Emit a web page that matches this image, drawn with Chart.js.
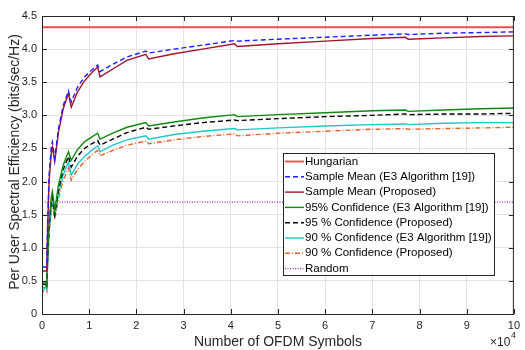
<!DOCTYPE html>
<html>
<head>
<meta charset="utf-8">
<script src="https://cdn.jsdelivr.net/npm/chart.js@4.4.1/dist/chart.umd.min.js"></script>
<style>
  html, body { margin: 0; padding: 0; background: #fff; }
  #wrap { width: 525px; height: 350px; }
</style>
</head>
<body>
<div id="wrap"><canvas id="seChart" width="525" height="350"></canvas></div>
<script>
// Number of OFDM symbols (x 10^4), shared by every curve
const symbols = [0, 0.08, 0.1, 0.12, 0.15, 0.2, 0.22, 0.27, 0.35, 0.45, 0.56, 0.62, 0.75, 0.9, 1.05, 1.18, 1.23,
                 1.5, 1.8, 2.2, 2.26, 2.8, 3.4, 4.08, 4.14, 5, 6, 7, 7.7, 7.76, 8.5, 9.3, 10];

const hungarian = symbols.map(() => 4.33);
const randomAlloc = symbols.map(() => 1.69);

const meanE3 = [0.71, 0.71, 0.71, 1.4, 2.1, 2.55, 2.6, 2.35, 2.8, 3.15, 3.37, 3.2, 3.42, 3.58, 3.68, 3.76, 3.66,
                3.77, 3.88, 3.97, 3.94, 4.0, 4.06, 4.13, 4.12, 4.15, 4.18, 4.21, 4.23, 4.22, 4.24, 4.25, 4.26];
const meanProposed = [0.65, 0.65, 0.65, 1.3, 2.0, 2.45, 2.52, 2.3, 2.75, 3.1, 3.33, 3.12, 3.35, 3.52, 3.64, 3.73, 3.58,
                      3.7, 3.83, 3.92, 3.85, 3.93, 4.0, 4.08, 4.04, 4.08, 4.12, 4.16, 4.18, 4.15, 4.17, 4.19, 4.2];
const conf95E3 = [0.47, 0.47, 0.42, 0.9, 1.4, 1.78, 1.85, 1.57, 1.95, 2.25, 2.45, 2.32, 2.48, 2.6, 2.67, 2.73, 2.64,
                  2.73, 2.82, 2.89, 2.84, 2.9, 2.96, 3.01, 2.98, 3.01, 3.04, 3.07, 3.08, 3.06, 3.08, 3.1, 3.11];
const conf95Proposed = [0.45, 0.45, 0.4, 0.85, 1.3, 1.7, 1.76, 1.5, 1.88, 2.18, 2.38, 2.22, 2.38, 2.5, 2.57, 2.62, 2.55,
                        2.64, 2.74, 2.82, 2.79, 2.84, 2.89, 2.93, 2.92, 2.95, 2.98, 3.0, 3.02, 3.01, 3.02, 3.02, 3.03];
const conf90E3 = [0.3, 0.43, 0.38, 0.8, 1.25, 1.65, 1.7, 1.48, 1.82, 2.1, 2.29, 2.1, 2.26, 2.38, 2.47, 2.54, 2.45,
                  2.55, 2.63, 2.69, 2.64, 2.71, 2.76, 2.8, 2.78, 2.81, 2.84, 2.86, 2.87, 2.86, 2.88, 2.89, 2.89];
const conf90Proposed = [0.4, 0.4, 0.35, 0.75, 1.2, 1.6, 1.65, 1.43, 1.75, 2.02, 2.2, 2.02, 2.18, 2.3, 2.4, 2.47, 2.39,
                        2.47, 2.55, 2.61, 2.57, 2.63, 2.68, 2.72, 2.69, 2.73, 2.76, 2.79, 2.8, 2.79, 2.8, 2.81, 2.82];

const xTicks = [0, 1, 2, 3, 4, 5, 6, 7, 8, 9, 10];
const yTicks = [0, 0.5, 1, 1.5, 2, 2.5, 3, 3.5, 4, 4.5];

const FONT = 'Liberation Sans, Arial, sans-serif';

// pair x values with a series for the linear x scale
function pts(values) {
    return symbols.map((x, i) => ({ x: x, y: values[i] }));
}

function series(label, values, color, dash, width) {
    return {
        label: label,
        data: pts(values),
        borderColor: color,
        backgroundColor: color,
        borderWidth: width || 1.4,
        borderDash: dash,
        pointRadius: 0,
        tension: 0,
        fill: false
    };
}

const datasets = [
    series('Hungarian', hungarian, '#f24a4a', [], 1.8),
    series('Sample Mean (E3 Algorithm [19])', meanE3, '#1f1fff', [5, 3]),
    series('Sample Mean (Proposed)', meanProposed, '#a2142f', []),
    series('95% Confidence (E3 Algorithm [19])', conf95E3, '#0f8a0f', []),
    series('95 % Confidence (Proposed)', conf95Proposed, '#000000', [5, 3]),
    series('90 % Confidence (E3 Algorithm [19])', conf90E3, '#1cc8c8', []),
    series('90 % Confidence (Proposed)', conf90Proposed, '#e8602a', [5, 2, 1, 2]),
    series('Random', randomAlloc, '#a030b8', [1, 1.5])
];

// box, inward ticks, axis titles and the legend, drawn after the chart
const decorations = {
    id: 'decorations',
    afterDraw(chart) {
        const ctx = chart.ctx;
        const a = chart.chartArea;
        const xs = chart.scales.x, ys = chart.scales.y;
        ctx.save();

        // axis box
        ctx.strokeStyle = '#262626';
        ctx.lineWidth = 1;
        ctx.strokeRect(a.left + 0.5, a.top + 0.5, a.right - a.left - 1, a.bottom - a.top);

        // inward ticks
        ctx.beginPath();
        xTicks.forEach(t => {
            const px = Math.round(xs.getPixelForValue(t)) + 0.5;
            ctx.moveTo(px, a.bottom); ctx.lineTo(px, a.bottom - 5);
            ctx.moveTo(px, a.top); ctx.lineTo(px, a.top + 5);
        });
        yTicks.forEach(t => {
            const py = Math.round(ys.getPixelForValue(t)) + 0.5;
            ctx.moveTo(a.left, py); ctx.lineTo(a.left + 5, py);
            ctx.moveTo(a.right, py); ctx.lineTo(a.right - 5, py);
        });
        ctx.stroke();

        // axis titles
        ctx.fillStyle = '#262626';
        ctx.font = '14px ' + FONT;
        ctx.textAlign = 'center';
        ctx.textBaseline = 'middle';
        ctx.fillText('Number of OFDM Symbols', (a.left + a.right) / 2, 342);
        ctx.save();
        ctx.translate(15, 162);
        ctx.rotate(-Math.PI / 2);
        ctx.fillText('Per User Spectral Efficiency (bits/sec/Hz)', 0, 0);
        ctx.restore();

        // x10^4 exponent
        ctx.font = '12px ' + FONT;
        ctx.textAlign = 'left';
        ctx.fillText('\u00d710', 490, 343);
        ctx.font = '9px ' + FONT;
        ctx.fillText('4', 511, 336);

        // legend
        const lx = 283, ly = 153, lw = 211, lh = 122;
        ctx.fillStyle = '#ffffff';
        ctx.fillRect(lx, ly, lw, lh);
        ctx.strokeStyle = '#262626';
        ctx.lineWidth = 1;
        ctx.strokeRect(lx + 0.5, ly + 0.5, lw, lh);
        ctx.font = '11.5px ' + FONT;
        ctx.textBaseline = 'middle';
        chart.data.datasets.forEach((ds, i) => {
            const y = ly + 8.5 + i * 15.3;
            ctx.strokeStyle = ds.borderColor;
            ctx.lineWidth = ds.borderWidth;
            ctx.setLineDash(ds.borderDash);
            ctx.beginPath();
            ctx.moveTo(lx + 2, y);
            ctx.lineTo(lx + 21, y);
            ctx.stroke();
            ctx.setLineDash([]);
            ctx.fillStyle = '#000000';
            ctx.fillText(ds.label, lx + 22, y);
        });
        ctx.restore();
    }
};

const ctx = document.getElementById('seChart').getContext('2d');
const seChart = new Chart(ctx, {
    type: 'line',
    data: { datasets: datasets },
    options: {
        responsive: false,
        animation: false,
        events: [],
        layout: { padding: { left: 0, right: 10, top: 16, bottom: 0 } },
        plugins: { legend: { display: false }, tooltip: { enabled: false } },
        scales: {
            x: {
                type: 'linear',
                min: 0,
                max: 10,
                afterBuildTicks: s => { s.ticks = xTicks.map(v => ({ value: v })); },
                afterFit: s => { s.height = 36; },
                grid: { color: '#e3e3e3', drawTicks: false },
                border: { display: false },
                ticks: { color: '#262626', font: { family: FONT, size: 11 }, padding: 5, maxRotation: 0 }
            },
            y: {
                type: 'linear',
                min: 0,
                max: 4.5,
                afterBuildTicks: s => { s.ticks = yTicks.map(v => ({ value: v })); },
                afterFit: s => { s.width = 42; },
                grid: { color: '#e3e3e3', drawTicks: false },
                border: { display: false },
                ticks: { color: '#262626', font: { family: FONT, size: 11 }, padding: 5 }
            }
        }
    },
    plugins: [decorations]
});
</script>
</body>
</html>
